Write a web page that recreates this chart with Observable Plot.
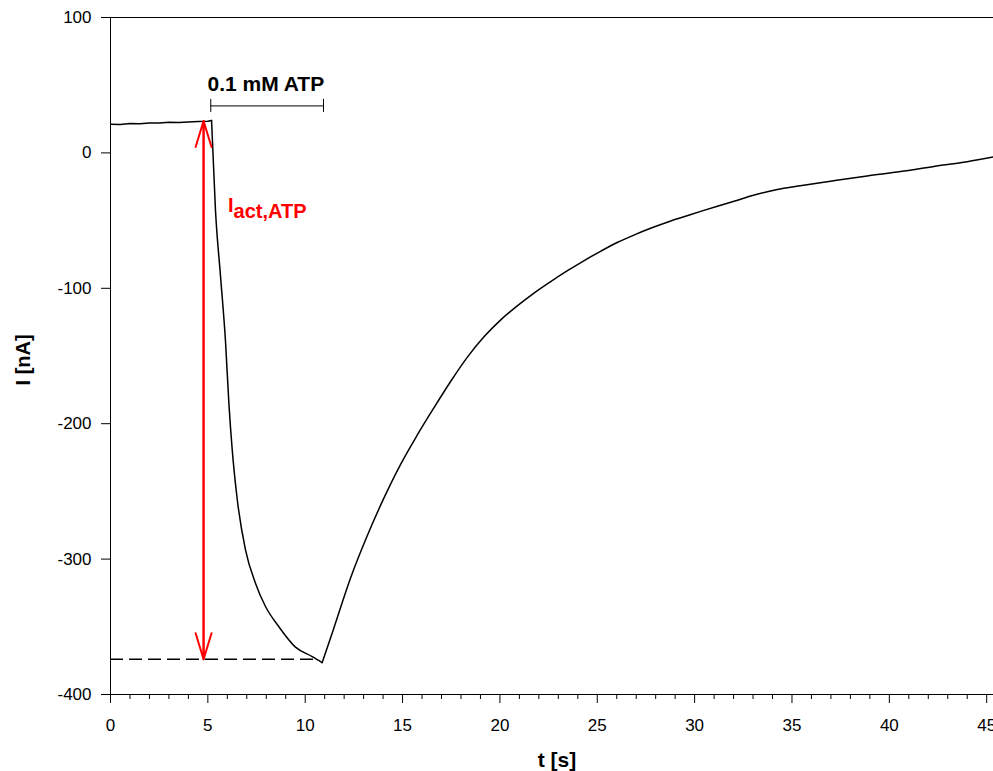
<!DOCTYPE html>
<html>
<head>
<meta charset="utf-8">
<script src="https://cdn.jsdelivr.net/npm/d3@7"></script>
<script src="https://cdn.jsdelivr.net/npm/@observablehq/plot@0.6"></script>
<style>
  html, body { margin: 0; padding: 0; background: #fff; }
  #chart svg { display: block; }
</style>
</head>
<body>
<div id="chart"></div>
<script>
// Current trace (t in s, I in nA)
const baselineTime = [0, 0.5, 1, 1.5, 2, 2.5, 3, 3.5, 4, 4.5, 5, 5.19];
const baselineCurrent = [21.2, 21.0, 21.8, 21.6, 22.1, 22.0, 22.6, 22.4, 22.9, 23.1, 23.4, 23.9];
const dropTime = [5.19, 5.39, 5.65, 5.91, 6.08, 6.25, 6.51, 6.93, 7.45, 7.96, 8.65, 9.5, 10.36, 10.87];
const dropCurrent = [23.9, -42, -91, -140, -185, -219, -256, -293, -318, -335, -350, -365, -372, -376.4];
const recoveryTime = [10.87, 11.47, 12.33, 13.18, 14.04, 14.9, 15.75, 16.6, 17.46, 18.32, 19.17, 20.03,
  20.89, 21.75, 22.61, 23.47, 24.33, 25.19, 26.05, 26.91, 27.77, 28.63, 29.49,
  30.35, 31.21, 32.07, 32.93, 33.79, 34.65, 35.51, 37.15, 38.86, 40.58, 42.29, 44.0, 45.35];
const recoveryCurrent = [-376.4, -351, -314, -283, -255, -230, -208.5, -188.5, -169, -151, -136, -123.5,
  -113, -103.5, -95, -87, -79.5, -72.5, -66, -60.5, -55.5, -51, -47,
  -43, -39.2, -35.5, -31.7, -28.5, -26, -24, -20.5, -17, -13.8, -10, -6.5, -3];

const xTicks = [0, 5, 10, 15, 20, 25, 30, 35, 40, 45];
const xMinorTicks = [1,2,3,4,6,7,8,9,11,12,13,14,16,17,18,19,21,22,23,24,26,27,28,29,31,32,33,34,36,37,38,39,41,42,43,44];
const yTicks = [-400, -300, -200, -100, 0, 100];

// Annotations
const stimLabel = ["0.1 mM ATP"];
const stimStart = [5.15];
const stimEnd = [10.94];
const stimLevel = [34.7];
const arrowTime = [4.78];
const baselineLevel = [23.6];
const peakLevel = [-374];
const peakDashEnd = [10.58];
const iLabelMain = ["I"];
const iLabelSub = ["act,ATP"];

const segs = (ts, vs) => ts.map((t, i) => ({t, I: vs[i]}));
const baseData = segs(baselineTime, baselineCurrent);
const dropData = segs(dropTime, dropCurrent);
const recData = segs(recoveryTime, recoveryCurrent);

const chart = Plot.plot({
  width: 993,
  height: 771,
  marginLeft: 110,
  marginRight: 0,
  marginTop: 17,
  marginBottom: 77,
  style: {fontFamily: "'Liberation Sans', Arial, sans-serif", color: "#000", background: "#fff"},
  x: {domain: [0, 45.35]},
  y: {domain: [-400, 100]},
  marks: [
    Plot.axisY({ticks: yTicks, tickSize: 9, tickPadding: 10, fontSize: 17, label: null, tickFormat: d => String(d)}),
    Plot.axisX({ticks: xTicks, tickSize: 9, tickPadding: 15, fontSize: 17, label: null, tickFormat: d => String(d)}),
    Plot.axisX({ticks: xMinorTicks, tickSize: 5, text: null, label: null}),
    Plot.ruleY([100], {stroke: "#000", strokeWidth: 1}),
    Plot.ruleY([-400], {stroke: "#000", strokeWidth: 1}),
    Plot.ruleX([0], {stroke: "#000", strokeWidth: 1}),
    // dashed peak level
    Plot.ruleY(peakLevel, {x1: 0, x2: peakDashEnd[0], stroke: "#000", strokeWidth: 1.5, strokeDasharray: "13,6"}),
    // current trace
    Plot.line(baseData, {x: "t", y: "I", stroke: "#000", strokeWidth: 1.5, clip: true}),
    Plot.line(dropData, {x: "t", y: "I", stroke: "#000", strokeWidth: 1.5, curve: "monotone-x", clip: true}),
    Plot.line(recData, {x: "t", y: "I", stroke: "#000", strokeWidth: 1.5, curve: "monotone-x", clip: true}),
    // stimulus bracket
    Plot.ruleY(stimLevel, {x1: stimStart[0], x2: stimEnd[0], stroke: "#000", strokeWidth: 1}),
    Plot.ruleX([stimStart[0], stimEnd[0]], {y1: stimLevel[0] - 4.8, y2: stimLevel[0] + 4.8, stroke: "#000", strokeWidth: 1}),
    Plot.text(stimLabel, {x: 4.98, y: 46, text: d => d, textAnchor: "start", lineAnchor: "bottom", fontSize: 21, fontWeight: "bold", fill: "#000"}),
    // red double arrow
    Plot.arrow([0], {x1: arrowTime[0], x2: arrowTime[0], y1: peakLevel[0], y2: baselineLevel[0], stroke: "#ff0000", strokeWidth: 2, headAngle: 34, headLength: 20.4}),
    Plot.arrow([0], {x1: arrowTime[0], x2: arrowTime[0], y1: baselineLevel[0], y2: peakLevel[0], stroke: "#ff0000", strokeWidth: 2, headAngle: 34, headLength: 20.4}),
    Plot.text(iLabelMain, {x: 6.03, y: -43.6, text: d => d, textAnchor: "start", lineAnchor: "bottom", fontSize: 20, fontWeight: "bold", fill: "#ff0000"}),
    Plot.text(iLabelSub, {x: 6.32, y: -48, text: d => d, textAnchor: "start", lineAnchor: "bottom", fontSize: 20, fontWeight: "bold", fill: "#ff0000"}),
    // axis titles
    Plot.text(["I [nA]"], {x: 0, y: -152.9, text: d => d, rotate: -90, dx: -87, fontSize: 20, fontWeight: "bold", fill: "#000"}),
    Plot.text(["t [s]"], {frameAnchor: "bottom", text: d => d, lineAnchor: "bottom", dx: 5, dy: 72, fontSize: 21, fontWeight: "bold", fill: "#000"})
  ]
});
document.getElementById("chart").appendChild(chart);
</script>
</body>
</html>
